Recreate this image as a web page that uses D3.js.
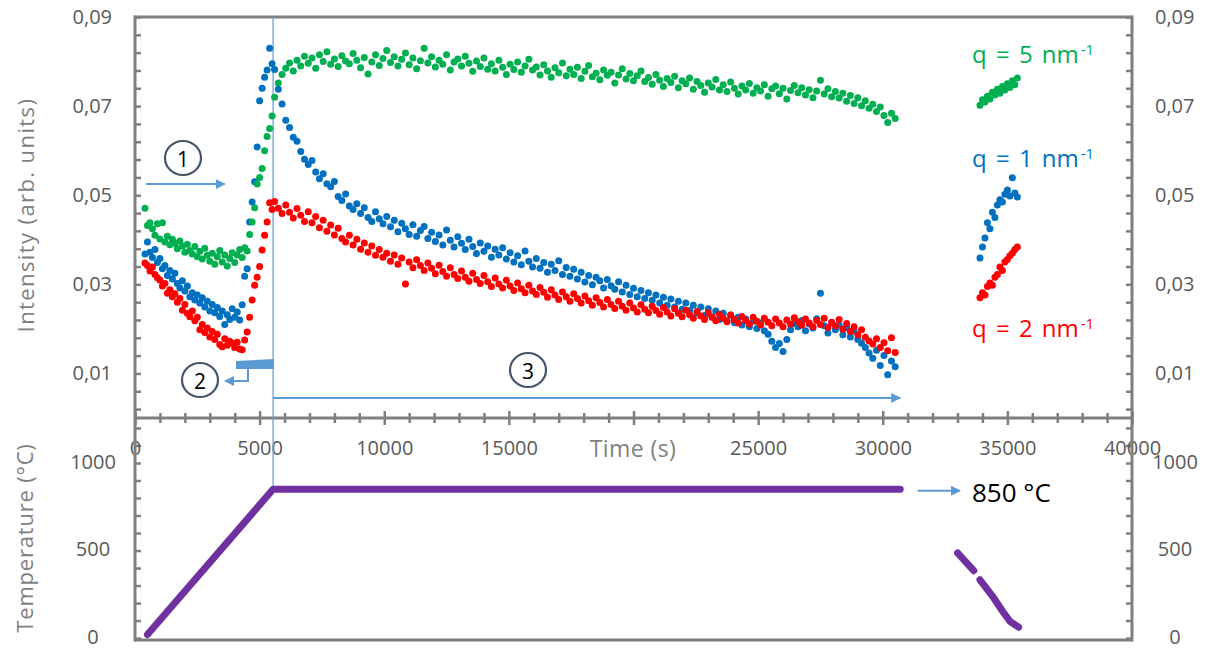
<!DOCTYPE html>
<html>
<head>
<meta charset="utf-8">
<script src="https://cdn.jsdelivr.net/npm/d3@7"></script>
<style>
  body { margin: 0; background: #fff; }
  svg { font-family: "Open Sans", sans-serif; }
</style>
</head>
<body>
<div id="chart"></div>
<script>
(function(){

// ---- data ----
// sampling: heating part every 100 s, holding part every 150 s, cooling part every 100 s
const timesHeat = d3.range(400, 5501, 100);
const timesHold = d3.range(5600, 30501, 150);
const timesCool = d3.range(33900, 35401, 100);

const q5Heat = [0.0471,0.0432,0.0438,0.0425,0.0410,0.0436,0.0402,0.0438,0.0395,0.0408,
  0.0389,0.0401,0.0392,0.0380,0.0397,0.0386,0.0372,0.0390,0.0376,0.0368,
  0.0385,0.0362,0.0374,0.0357,0.0381,0.0365,0.0352,0.0370,0.0345,0.0362,
  0.0376,0.0350,0.0366,0.0341,0.0358,0.0371,0.0349,0.0366,0.0378,0.0360,
  0.0382,0.0375,0.0412,0.0440,0.0472,0.0525,0.0540,0.0560,0.0600,0.0632,
  0.0650,0.0678];
const q1Heat = [0.0368,0.0395,0.0372,0.0360,0.0378,0.0349,0.0358,0.0335,0.0342,0.0320,
  0.0331,0.0312,0.0325,0.0302,0.0292,0.0308,0.0285,0.0296,0.0272,0.0281,
  0.0265,0.0276,0.0258,0.0270,0.0249,0.0262,0.0240,0.0255,0.0236,0.0248,
  0.0228,0.0240,0.0210,0.0232,0.0221,0.0245,0.0226,0.0238,0.0220,0.0254,
  0.0318,0.0335,0.0440,0.0485,0.0530,0.0608,0.0712,0.0740,0.0765,0.0781,
  0.0830,0.0795];
const q2Heat = [0.0348,0.0342,0.0330,0.0339,0.0322,0.0315,0.0310,0.0296,0.0302,0.0280,
  0.0288,0.0272,0.0279,0.0260,0.0268,0.0242,0.0255,0.0235,0.0227,0.0240,
  0.0218,0.0226,0.0198,0.0210,0.0192,0.0202,0.0182,0.0194,0.0176,0.0188,
  0.0165,0.0160,0.0178,0.0163,0.0172,0.0168,0.0158,0.0170,0.0155,0.0153,
  0.0175,0.0193,0.0226,0.0265,0.0298,0.0316,0.0340,0.0377,0.0410,0.0440,
  0.0483,0.0468];

const q5Hold = [0.0720,0.0752,0.0771,0.0785,0.0797,0.0779,0.0803,0.0790,0.0812,0.0796,
  0.0808,0.0785,0.0815,0.0800,0.0822,0.0794,0.0806,0.0789,0.0813,0.0801,
  0.0795,0.0818,0.0803,0.0786,0.0809,0.0772,0.0799,0.0815,0.0791,0.0807,
  0.0825,0.0798,0.0811,0.0790,0.0805,0.0819,0.0793,0.0808,0.0784,0.0802,
  0.0830,0.0797,0.0811,0.0788,0.0803,0.0794,0.0815,0.0781,0.0799,0.0806,
  0.0790,0.0812,0.0796,0.0778,0.0801,0.0789,0.0808,0.0783,0.0795,0.0779,
  0.0803,0.0787,0.0771,0.0794,0.0782,0.0799,0.0776,0.0790,0.0805,0.0781,
  0.0788,0.0770,0.0793,0.0779,0.0765,0.0786,0.0775,0.0797,0.0768,0.0783,
  0.0771,0.0787,0.0762,0.0778,0.0791,0.0766,0.0774,0.0759,0.0781,0.0769,
  0.0776,0.0752,0.0770,0.0784,0.0761,0.0773,0.0757,0.0768,0.0779,0.0755,
  0.0764,0.0749,0.0771,0.0758,0.0744,0.0762,0.0753,0.0767,0.0741,0.0757,
  0.0750,0.0763,0.0738,0.0755,0.0746,0.0731,0.0752,0.0743,0.0760,0.0736,
  0.0748,0.0733,0.0754,0.0740,0.0727,0.0745,0.0736,0.0751,0.0729,0.0741,
  0.0734,0.0748,0.0722,0.0739,0.0745,0.0728,0.0740,0.0716,0.0735,0.0746,
  0.0730,0.0741,0.0725,0.0737,0.0719,0.0734,0.0758,0.0727,0.0739,0.0721,
  0.0733,0.0718,0.0729,0.0711,0.0724,0.0706,0.0719,0.0701,0.0712,0.0695,
  0.0704,0.0688,0.0698,0.0679,0.0663,0.0684,0.0672];
const q1Hold = [0.0782,0.0738,0.0705,0.0668,0.0652,0.0630,0.0621,0.0598,0.0581,0.0569,
  0.0578,0.0552,0.0537,0.0548,0.0526,0.0519,0.0531,0.0497,0.0488,0.0503,
  0.0476,0.0468,0.0481,0.0459,0.0472,0.0450,0.0441,0.0463,0.0447,0.0436,
  0.0452,0.0429,0.0444,0.0418,0.0437,0.0425,0.0412,0.0434,0.0408,0.0421,
  0.0430,0.0403,0.0417,0.0396,0.0411,0.0388,0.0422,0.0399,0.0384,0.0407,
  0.0392,0.0378,0.0401,0.0385,0.0369,0.0393,0.0374,0.0386,0.0361,0.0379,
  0.0366,0.0382,0.0357,0.0371,0.0350,0.0364,0.0344,0.0375,0.0352,0.0339,
  0.0358,0.0336,0.0349,0.0327,0.0345,0.0331,0.0353,0.0322,0.0338,0.0318,
  0.0334,0.0312,0.0327,0.0305,0.0320,0.0299,0.0316,0.0308,0.0292,0.0311,
  0.0297,0.0289,0.0306,0.0283,0.0298,0.0277,0.0291,0.0272,0.0286,0.0268,
  0.0281,0.0264,0.0276,0.0258,0.0271,0.0253,0.0267,0.0249,0.0262,0.0244,
  0.0258,0.0241,0.0253,0.0236,0.0249,0.0230,0.0245,0.0227,0.0240,0.0221,
  0.0235,0.0218,0.0231,0.0214,0.0226,0.0209,0.0222,0.0205,0.0217,0.0201,
  0.0213,0.0196,0.0188,0.0172,0.0158,0.0167,0.0149,0.0176,0.0198,0.0212,
  0.0205,0.0219,0.0196,0.0211,0.0202,0.0223,0.0280,0.0207,0.0191,0.0214,
  0.0198,0.0208,0.0187,0.0203,0.0182,0.0195,0.0176,0.0168,0.0158,0.0146,
  0.0134,0.0152,0.0118,0.0140,0.0097,0.0128,0.0115];
const q2Hold = [0.0486,0.0471,0.0459,0.0478,0.0462,0.0449,0.0470,0.0455,0.0441,0.0463,
  0.0438,0.0452,0.0427,0.0444,0.0419,0.0433,0.0411,0.0426,0.0403,0.0395,
  0.0410,0.0388,0.0401,0.0379,0.0393,0.0372,0.0386,0.0365,0.0378,0.0361,
  0.0370,0.0352,0.0366,0.0345,0.0359,0.0301,0.0350,0.0337,0.0355,0.0342,
  0.0331,0.0348,0.0336,0.0324,0.0343,0.0329,0.0318,0.0337,0.0322,0.0313,
  0.0330,0.0316,0.0307,0.0325,0.0311,0.0302,0.0320,0.0306,0.0295,0.0314,
  0.0301,0.0292,0.0309,0.0296,0.0286,0.0303,0.0290,0.0281,0.0298,0.0285,
  0.0277,0.0293,0.0282,0.0271,0.0288,0.0276,0.0266,0.0283,0.0272,0.0262,
  0.0279,0.0268,0.0258,0.0274,0.0263,0.0253,0.0270,0.0259,0.0249,0.0266,
  0.0255,0.0246,0.0262,0.0251,0.0242,0.0258,0.0247,0.0238,0.0254,0.0244,
  0.0236,0.0251,0.0241,0.0233,0.0248,0.0238,0.0229,0.0245,0.0235,0.0227,
  0.0242,0.0232,0.0224,0.0239,0.0229,0.0221,0.0236,0.0226,0.0218,0.0233,
  0.0224,0.0216,0.0231,0.0221,0.0213,0.0228,0.0219,0.0211,0.0226,0.0217,
  0.0209,0.0224,0.0215,0.0207,0.0222,0.0213,0.0205,0.0220,0.0211,0.0225,
  0.0216,0.0208,0.0222,0.0213,0.0205,0.0219,0.0210,0.0224,0.0203,0.0215,
  0.0207,0.0221,0.0199,0.0212,0.0194,0.0205,0.0187,0.0198,0.0181,0.0173,
  0.0166,0.0178,0.0158,0.0169,0.0151,0.0180,0.0147];

const q5Cool = [0.0702,0.0714,0.0709,0.0722,0.0716,0.0731,0.0725,0.0738,0.0729,0.0744,
  0.0736,0.0750,0.0742,0.0757,0.0748,0.0763];
const q1Cool = [0.0359,0.0384,0.0404,0.0438,0.0425,0.0462,0.0450,0.0478,0.0490,0.0485,
  0.0502,0.0512,0.0498,0.0539,0.0505,0.0496];
const q2Cool = [0.0270,0.0281,0.0276,0.0295,0.0303,0.0298,0.0316,0.0322,0.0339,0.0331,
  0.0350,0.0356,0.0364,0.0370,0.0378,0.0384];

// temperature profile (null = gap in the record)
const tempTime  = [500, 5540, 30700, null, 33000, 33650, null, 33900, 34400, 34800, 35100, 35450];
const tempValue = [20, 850, 850, null, 486, 385, null, 333, 240, 155, 96, 62];

const seriesNames = ["q = 1 nm", "q = 2 nm", "q = 5 nm"];
const seriesColors = ["#0070c0", "#ff0000", "#00b050"];

// ---- layout ----
const width = 1207, height = 649;
const grey = "#7f7f7f", labelGrey = "#595959", arrowBlue = "#5b9bd5";

const x = d3.scaleLinear().domain([0, 40000]).range([135, 1132]);
const y = d3.scaleLinear().domain([0, 0.09]).range([418, 17]);
const yT = d3.scaleLinear().domain([-11, 1000]).range([640, 463]);

const svg = d3.select("#chart").append("svg")
  .attr("width", width)
  .attr("height", height);

const fmtI = d => d3.format(".2f")(d).replace(".", ",");
const isMajorI = d => Math.abs(((d - 0.01) / 0.02) - Math.round((d - 0.01) / 0.02)) < 1e-6;

// intensity axes (left and right)
const iTicks = d3.range(0.002, 0.0901, 0.004);
const leftI = svg.append("g").attr("transform", `translate(${x(0)},0)`)
  .call(d3.axisLeft(y).tickValues(iTicks).tickSizeInner(-6).tickSizeOuter(0).tickPadding(23)
    .tickFormat(d => isMajorI(d) ? fmtI(d) : ""));
const rightI = svg.append("g").attr("transform", `translate(${x(40000)},0)`)
  .call(d3.axisRight(y).tickValues(iTicks).tickSizeInner(-6).tickSizeOuter(0).tickPadding(23)
    .tickFormat(d => isMajorI(d) ? fmtI(d) : ""));

// temperature axes (left and right)
const tTicks = d3.range(0, 1201, 100);
const leftT = svg.append("g").attr("transform", `translate(${x(0)},0)`)
  .call(d3.axisLeft(yT).tickValues(tTicks).tickSizeInner(-6).tickSizeOuter(0)
    .tickFormat(d => d % 500 === 0 ? d : ""));
const rightT = svg.append("g").attr("transform", `translate(${x(40000)},0)`)
  .call(d3.axisRight(yT).tickValues(tTicks).tickSizeInner(-6).tickSizeOuter(0)
    .tickFormat(d => d % 500 === 0 ? d : ""));
leftT.selectAll(".tick text").attr("x", -42).attr("text-anchor", "middle").attr("dy", "0.25em");
rightT.selectAll(".tick text").attr("x", 43).attr("text-anchor", "middle").attr("dy", "0.25em");

// time axis (the 20000 label sits under the axis title in the original)
const xAxis = svg.append("g").attr("transform", `translate(0,${y(0)})`)
  .call(d3.axisBottom(x).tickValues(d3.range(0, 40001, 1000)).tickSize(0)
    .tickFormat(d => d % 5000 === 0 && d !== 20000 ? d : ""));
xAxis.selectAll(".tick line")
  .attr("y1", d => d % 5000 === 0 ? -7 : -5)
  .attr("y2", d => d % 5000 === 0 ? 7 : 5);
xAxis.selectAll(".tick text").attr("y", 30).attr("dy", "0.35em");

[leftI, rightI, leftT, rightT, xAxis].forEach(g => {
  g.attr("font-family", null).attr("font-size", null);
  g.select(".domain").remove();
  g.selectAll(".tick line").attr("stroke", grey).attr("stroke-width", 2.5);
  g.selectAll(".tick text").attr("fill", labelGrey).style("font-size", "20px");
});

// frame lines
const frame = svg.append("g").attr("stroke", grey).attr("stroke-width", 3).attr("fill", "none");
frame.append("line").attr("x1", x(0)).attr("x2", x(40000)).attr("y1", y(0.09)).attr("y2", y(0.09));
frame.append("line").attr("x1", x(0)).attr("x2", x(40000)).attr("y1", y(0)).attr("y2", y(0));
frame.append("line").attr("x1", x(0)).attr("x2", x(40000)).attr("y1", yT(-11)).attr("y2", yT(-11));
frame.append("line").attr("x1", x(0)).attr("x2", x(0)).attr("y1", y(0.09) - 1.5).attr("y2", yT(-11) + 1.5);
frame.append("line").attr("x1", x(40000)).attr("x2", x(40000)).attr("y1", y(0.09) - 1.5).attr("y2", yT(-11) + 1.5);

// axis titles
svg.append("text")
  .attr("transform", `translate(25,215) rotate(-90)`)
  .attr("text-anchor", "middle").attr("dominant-baseline", "central")
  .attr("fill", grey).style("font-size", "22px").style("letter-spacing", "1.4px")
  .text("Intensity (arb. units)");
svg.append("text")
  .attr("transform", `translate(24,538) rotate(-90)`)
  .attr("text-anchor", "middle").attr("dominant-baseline", "central")
  .attr("fill", grey).style("font-size", "22px").style("letter-spacing", "0.8px")
  .text("Temperature (°C)");
svg.append("text")
  .attr("x", 633).attr("y", 448).attr("text-anchor", "middle").attr("dominant-baseline", "central")
  .attr("fill", grey).style("font-size", "23px").style("letter-spacing", "0.4px")
  .text("Time (s)");

// end-of-ramp marker line
svg.append("line")
  .attr("x1", x(5540)).attr("x2", x(5540))
  .attr("y1", y(0.09)).attr("y2", yT(850))
  .attr("stroke", arrowBlue).attr("stroke-width", 1.2);

// temperature curve
const tempPts = tempTime.map((t, i) => ({t, v: tempValue[i]}));
svg.append("path")
  .datum(tempPts)
  .attr("fill", "none")
  .attr("stroke", "#7030a0")
  .attr("stroke-width", 7)
  .attr("stroke-linecap", "round")
  .attr("stroke-linejoin", "round")
  .attr("d", d3.line().defined(d => d.t != null).x(d => x(d.t)).y(d => yT(d.v)));

// intensity scatter
const allSeries = [
  [q1Heat, q1Hold, q1Cool],
  [q2Heat, q2Hold, q2Cool],
  [q5Heat, q5Hold, q5Cool]
];
const toPts = parts => [].concat(
  timesHeat.map((t, i) => ({t, v: parts[0][i]})),
  timesHold.map((t, i) => ({t, v: parts[1][i]})),
  timesCool.map((t, i) => ({t, v: parts[2][i]}))
);
allSeries.forEach((parts, k) => {
  svg.append("g").attr("fill", seriesColors[k])
    .selectAll("circle")
    .data(toPts(parts))
    .enter().append("circle")
    .attr("cx", d => x(d.t))
    .attr("cy", d => y(d.v))
    .attr("r", 3.5);
});

// series labels
const labelPos = [
  {name: seriesNames[2], color: seriesColors[2], base: 63},
  {name: seriesNames[0], color: seriesColors[0], base: 167},
  {name: seriesNames[1], color: seriesColors[1], base: 337}
];
labelPos.forEach(l => {
  const t = svg.append("text").attr("x", 972).attr("y", l.base)
    .attr("fill", l.color).style("font-size", "24px").style("word-spacing", "3px")
    .text(l.name);
  const w = t.node().getComputedTextLength();
  svg.append("text").attr("x", 972 + w + 2).attr("y", l.base - 8)
    .attr("fill", l.color).style("font-size", "15px")
    .text("-1");
});

// arrows and step markers
const defs = svg.append("defs");
defs.append("marker")
  .attr("id", "head").attr("viewBox", "0 0 10 10")
  .attr("refX", 9).attr("refY", 5)
  .attr("markerWidth", 5).attr("markerHeight", 5)
  .attr("markerUnits", "strokeWidth")
  .attr("orient", "auto")
  .append("path").attr("d", "M0,0 L10,5 L0,10 z").attr("fill", arrowBlue);

const arrow = (pts) => svg.append("path")
  .attr("d", d3.line()(pts))
  .attr("fill", "none").attr("stroke", arrowBlue).attr("stroke-width", 2)
  .attr("marker-end", "url(#head)");

arrow([[x(450), y(0.0525)], [x(3600), y(0.0525)]]);
arrow([[x(5540), y(0.0045)], [x(30700), y(0.0045)]]);
arrow([[x(31400), yT(842)], [x(33100), yT(842)]]);
svg.append("path")
  .attr("d", "M236,361 L274,359 L274,369 L236,369 Z")
  .attr("fill", arrowBlue);
arrow([[248, 369], [248, 381], [225, 381]]);

const steps = [
  {n: "1", cx: 183, cy: 158},
  {n: "2", cx: 200, cy: 380},
  {n: "3", cx: 528, cy: 370}
];
steps.forEach(s => {
  svg.append("ellipse").attr("cx", s.cx).attr("cy", s.cy).attr("rx", 18).attr("ry", 17)
    .attr("fill", "#fff").attr("stroke", "#44546a").attr("stroke-width", 2.2);
  svg.append("text").attr("x", s.cx).attr("y", s.cy + 1)
    .attr("text-anchor", "middle").attr("dominant-baseline", "central")
    .style("font-size", "21px").attr("fill", "#000")
    .text(s.n);
});

svg.append("text").attr("x", 972).attr("y", 502)
  .attr("fill", "#000").style("font-size", "26px")
  .text("850 °C");

})();
</script>
</body>
</html>
